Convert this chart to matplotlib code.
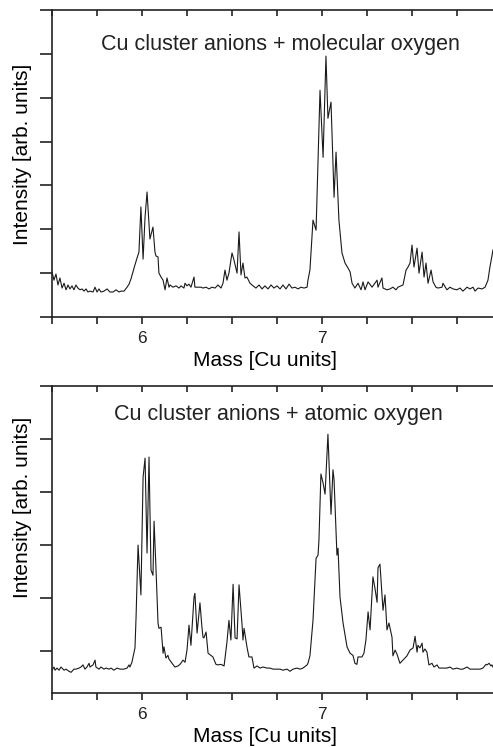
import numpy as np
import matplotlib
matplotlib.use('Agg')
import matplotlib.pyplot as plt

plt.rcParams['font.family'] = ['Liberation Sans', 'DejaVu Sans']

# top panel: Cu cluster anions + molecular oxygen
mass_mol = [5.500, 5.511, 5.522, 5.533, 5.544, 5.556, 5.567, 5.578, 5.589, 5.600,
            5.611, 5.622, 5.633, 5.644, 5.656, 5.667, 5.678, 5.689, 5.700, 5.711,
            5.728, 5.739, 5.750, 5.761, 5.772, 5.789, 5.806, 5.822, 5.839, 5.856,
            5.872, 5.883, 5.900, 5.917, 5.928, 5.939, 5.956, 5.972, 5.983, 5.994,
            6.006, 6.017, 6.028, 6.044, 6.061, 6.072, 6.078, 6.089, 6.094, 6.106,
            6.117, 6.128, 6.139, 6.150, 6.156, 6.172, 6.189, 6.206, 6.217, 6.233,
            6.239, 6.250, 6.261, 6.272, 6.289, 6.294, 6.317, 6.328, 6.339, 6.356,
            6.372, 6.389, 6.406, 6.422, 6.439, 6.450, 6.461, 6.472, 6.483, 6.500,
            6.511, 6.528, 6.539, 6.550, 6.561, 6.572, 6.583, 6.600, 6.617, 6.633,
            6.650, 6.667, 6.683, 6.700, 6.717, 6.733, 6.750, 6.767, 6.783, 6.800,
            6.817, 6.833, 6.850, 6.867, 6.883, 6.900, 6.917, 6.922, 6.933, 6.950,
            6.967, 6.989, 7.006, 7.022, 7.033, 7.050, 7.067, 7.078, 7.094, 7.111,
            7.128, 7.144, 7.156, 7.167, 7.183, 7.200, 7.217, 7.228, 7.239, 7.256,
            7.278, 7.294, 7.306, 7.311, 7.333, 7.339, 7.361, 7.378, 7.394, 7.411,
            7.422, 7.450, 7.467, 7.478, 7.489, 7.500, 7.511, 7.528, 7.539, 7.556,
            7.567, 7.578, 7.589, 7.606, 7.617, 7.633, 7.644, 7.667, 7.672, 7.694,
            7.711, 7.728, 7.750, 7.767, 7.783, 7.806, 7.822, 7.839, 7.850, 7.867,
            7.889, 7.906, 7.922, 7.933, 7.950]
int_mol = [1.03, 0.84, 0.98, 0.73, 0.89, 0.66, 0.77, 0.62, 0.73, 0.64,
           0.71, 0.62, 0.73, 0.66, 0.62, 0.64, 0.59, 0.64, 0.57, 0.59,
           0.57, 0.68, 0.57, 0.64, 0.57, 0.59, 0.64, 0.57, 0.57, 0.62,
           0.57, 0.59, 0.59, 0.68, 0.75, 0.87, 1.12, 1.34, 1.48, 2.51,
           1.32, 2.28, 2.85, 1.78, 2.05, 1.48, 1.39, 1.37, 1.00, 0.91,
           0.84, 0.62, 0.89, 0.68, 0.73, 0.68, 0.71, 0.66, 0.71, 0.66,
           0.77, 0.71, 0.75, 0.68, 0.91, 0.68, 0.68, 0.68, 0.66, 0.68,
           0.64, 0.68, 0.66, 0.73, 0.66, 0.77, 1.07, 0.84, 1.00, 1.46,
           1.30, 1.00, 1.94, 0.96, 1.23, 0.89, 0.91, 0.77, 0.71, 0.66,
           0.73, 0.64, 0.71, 0.64, 0.73, 0.66, 0.71, 0.64, 0.73, 0.64,
           0.75, 0.66, 0.68, 0.64, 0.68, 0.66, 0.68, 0.84, 1.07, 2.21,
           1.98, 5.17, 3.64, 5.95, 4.53, 4.90, 2.73, 3.76, 2.21, 1.46,
           1.23, 1.12, 1.03, 0.77, 0.66, 0.77, 0.62, 0.80, 0.62, 0.80,
           0.68, 0.77, 0.84, 0.68, 0.89, 0.66, 0.62, 0.64, 0.68, 0.62,
           0.68, 0.73, 1.07, 1.14, 1.23, 1.64, 1.14, 1.57, 1.00, 1.48,
           0.91, 1.23, 0.77, 1.07, 0.80, 0.68, 0.66, 0.68, 0.77, 0.62,
           0.68, 0.64, 0.62, 0.66, 0.59, 0.68, 0.64, 0.68, 0.59, 0.66,
           0.64, 0.68, 0.84, 1.14, 1.53]

# bottom panel: Cu cluster anions + atomic oxygen
mass_at = [5.500, 5.511, 5.517, 5.528, 5.539, 5.550, 5.567, 5.578, 5.594, 5.606,
           5.622, 5.633, 5.650, 5.661, 5.672, 5.683, 5.694, 5.706, 5.711, 5.728,
           5.739, 5.744, 5.761, 5.772, 5.789, 5.800, 5.817, 5.828, 5.844, 5.861,
           5.878, 5.900, 5.917, 5.928, 5.933, 5.944, 5.961, 5.967, 5.978, 5.994,
           6.006, 6.017, 6.028, 6.039, 6.050, 6.061, 6.067, 6.078, 6.089, 6.094,
           6.106, 6.117, 6.122, 6.133, 6.144, 6.150, 6.167, 6.183, 6.200, 6.211,
           6.228, 6.239, 6.250, 6.261, 6.272, 6.289, 6.294, 6.306, 6.322, 6.333,
           6.339, 6.344, 6.356, 6.367, 6.383, 6.394, 6.411, 6.422, 6.439, 6.456,
           6.472, 6.483, 6.494, 6.506, 6.517, 6.528, 6.539, 6.556, 6.561, 6.567,
           6.583, 6.594, 6.611, 6.622, 6.639, 6.656, 6.672, 6.694, 6.711, 6.728,
           6.750, 6.767, 6.783, 6.806, 6.822, 6.839, 6.861, 6.878, 6.894, 6.917,
           6.922, 6.933, 6.950, 6.967, 6.978, 6.983, 6.994, 7.006, 7.017, 7.033,
           7.050, 7.061, 7.067, 7.083, 7.089, 7.100, 7.117, 7.139, 7.156, 7.172,
           7.183, 7.194, 7.200, 7.222, 7.233, 7.244, 7.256, 7.267, 7.283, 7.294,
           7.306, 7.311, 7.322, 7.339, 7.350, 7.361, 7.372, 7.389, 7.394, 7.406,
           7.417, 7.433, 7.450, 7.472, 7.489, 7.506, 7.517, 7.528, 7.533, 7.544,
           7.556, 7.561, 7.572, 7.583, 7.594, 7.611, 7.622, 7.639, 7.650, 7.672,
           7.694, 7.711, 7.728, 7.750, 7.767, 7.783, 7.806, 7.822, 7.839, 7.861,
           7.878, 7.894, 7.911, 7.917, 7.928, 7.939, 7.944, 7.950]
int_at = [-0.36, -0.30, -0.36, -0.32, -0.36, -0.30, -0.36, -0.34, -0.38, -0.40,
          -0.34, -0.34, -0.32, -0.30, -0.26, -0.34, -0.30, -0.23, -0.30, -0.26,
          -0.17, -0.30, -0.34, -0.30, -0.34, -0.32, -0.34, -0.32, -0.36, -0.32,
          -0.34, -0.34, -0.32, -0.26, -0.30, -0.21, 0.06, 0.64, 2.00, 1.06,
          3.28, 3.64, 1.85, 3.66, 1.53, 1.43, 2.45, 1.53, 0.53, 0.43,
          0.45, -0.04, 0.08, -0.13, -0.08, -0.15, -0.23, -0.30, -0.28, -0.25,
          -0.17, -0.21, 0.02, 0.49, 0.11, 1.02, 1.09, 0.34, 0.91, 0.45,
          0.26, 0.25, 0.36, -0.04, -0.08, -0.11, -0.25, -0.26, -0.25, -0.28,
          0.17, 0.58, 0.21, 1.26, 0.25, 0.23, 1.25, 0.49, 0.21, 0.43,
          0.08, -0.11, -0.11, -0.32, -0.28, -0.32, -0.30, -0.32, -0.32, -0.34,
          -0.34, -0.34, -0.36, -0.34, -0.38, -0.34, -0.32, -0.34, -0.32, -0.26,
          -0.23, -0.09, 0.58, 1.75, 1.81, 2.09, 3.34, 3.17, 2.96, 4.09,
          2.58, 3.42, 3.23, 1.81, 1.94, 1.02, 0.53, 0.08, -0.04, -0.08,
          -0.23, -0.25, -0.11, -0.11, -0.04, 0.21, 0.74, 0.40, 1.40, 1.19,
          0.92, 1.57, 1.64, 0.77, 1.06, 0.40, 0.53, 0.26, -0.09, 0.02,
          -0.06, -0.23, -0.17, -0.09, 0.02, 0.06, 0.28, -0.02, 0.11, 0.06,
          0.15, -0.02, 0.04, -0.02, -0.26, -0.23, -0.30, -0.26, -0.32, -0.32,
          -0.32, -0.30, -0.34, -0.32, -0.34, -0.34, -0.30, -0.34, -0.34, -0.34,
          -0.34, -0.32, -0.25, -0.26, -0.23, -0.28, -0.26, -0.30]

titles = ['Cu cluster anions + molecular oxygen', 'Cu cluster anions + atomic oxygen']
x_ticks = [5.5, 5.75, 6.0, 6.25, 6.5, 6.75, 7.0, 7.25, 7.5, 7.75]
x_ticklabels = ['', '', '6', '', '', '', '7', '', '', '']

fig = plt.figure(figsize=(4.93, 7.47), dpi=100)
ax1 = fig.add_axes([52/493, 1-317/747, 441/493, 307/747])
ax2 = fig.add_axes([52/493, 1-693/747, 441/493, 307/747])

panels = [(ax1, mass_mol, int_mol, (0, 7), range(0, 8), titles[0], 0.519, 0.889, 0.531),
          (ax2, mass_at, int_at, (-0.79, 5), range(0, 6), titles[1], 0.513, 0.906, 0.606)]

for ax, m, inten, ylim, yt, title, tx, ty, ly in panels:
    ax.plot(m, inten, color='#1a1a1a', lw=0.8)
    ax.set_xlim(5.5, 7.95)
    ax.set_ylim(*ylim)
    ax.set_xticks(x_ticks)
    ax.set_xticklabels(x_ticklabels, fontsize=12.5)
    ax.set_yticks(list(yt))
    ax.set_yticklabels([])
    ax.spines['right'].set_visible(False)
    for s in ['left', 'top', 'bottom']:
        ax.spines[s].set_linewidth(1.2)
        ax.spines[s].set_color('#222222')
    ax.tick_params(axis='x', which='both', direction='out', length=5, width=1.2,
                   top=True, pad=5, colors='#222222')
    ax.tick_params(axis='y', direction='out', length=9, width=1.2, colors='#222222')
    # inward ticks on the top spine
    for t in ax.xaxis.get_major_ticks():
        t.tick2line.set_marker(3)
        t.tick2line.set_markersize(4)
    ax.set_xlabel('Mass [Cu units]', fontsize=15)
    ax.xaxis.set_label_coords(0.483, -0.112)
    ax.set_ylabel('Intensity [arb. units]', fontsize=15)
    ax.yaxis.set_label_coords(-0.068, ly)
    ax.yaxis.label.set_va('center')
    ax.text(tx, ty, title, transform=ax.transAxes, ha='center', va='center',
            fontsize=15.5, color='#222222')

fig.savefig('out.png', dpi=100)
